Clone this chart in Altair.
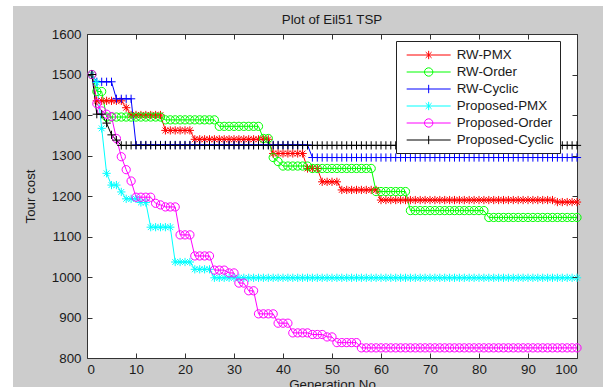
import altair as alt
import pandas as pd

# ---------------- data ----------------
generations = list(range(1, 101))

series_names = ["RW-PMX", "RW-Order", "RW-Cyclic",
                "Proposed-PMX", "Proposed-Order", "Proposed-Cyclic"]
series_colors = ["#ff0000", "#00ff00", "#0000ff", "#00ffff", "#ff00ff", "#000000"]

rw_pmx = [1500, 1435, 1435, 1435, 1435, 1435, 1435, 1418, 1400, 1400,
          1400, 1400, 1400, 1400, 1400, 1362, 1362, 1362, 1362, 1362,
          1362, 1340, 1340, 1340, 1340, 1340, 1340, 1340, 1340, 1340,
          1340, 1340, 1340, 1340, 1340, 1340, 1340, 1305, 1305, 1305,
          1305, 1305, 1305, 1305, 1268, 1268, 1268, 1235, 1235, 1235,
          1235, 1215, 1215, 1215, 1215, 1215, 1215, 1215, 1215, 1190,
          1190, 1190, 1190, 1190, 1190, 1190, 1190, 1190, 1190, 1190,
          1190, 1190, 1190, 1190, 1190, 1190, 1190, 1190, 1190, 1190,
          1190, 1190, 1190, 1190, 1190, 1190, 1190, 1190, 1190, 1190,
          1190, 1190, 1190, 1190, 1190, 1185, 1185, 1185, 1185, 1185]

rw_order = [1500, 1458, 1458, 1395, 1395, 1395, 1395, 1395, 1395, 1395,
            1395, 1395, 1395, 1395, 1395, 1388, 1388, 1388, 1388, 1388,
            1388, 1388, 1388, 1388, 1388, 1388, 1372, 1372, 1372, 1372,
            1372, 1372, 1372, 1372, 1372, 1342, 1342, 1295, 1285, 1274,
            1274, 1274, 1274, 1274, 1274, 1268, 1268, 1268, 1268, 1268,
            1268, 1268, 1268, 1268, 1268, 1268, 1268, 1268, 1211, 1211,
            1211, 1211, 1211, 1211, 1211, 1164, 1164, 1164, 1164, 1164,
            1164, 1164, 1164, 1164, 1164, 1164, 1164, 1164, 1164, 1164,
            1164, 1147, 1147, 1147, 1147, 1147, 1147, 1147, 1147, 1147,
            1147, 1147, 1147, 1147, 1147, 1147, 1147, 1147, 1147, 1147]

rw_cyclic = [1500, 1482, 1482, 1482, 1482, 1440, 1440, 1440, 1440, 1326,
             1326, 1326, 1326, 1326, 1326, 1326, 1326, 1326, 1326, 1326,
             1326, 1326, 1326, 1326, 1326, 1326, 1326, 1326, 1326, 1326,
             1326, 1326, 1326, 1326, 1326, 1326, 1326, 1326, 1326, 1326,
             1326, 1326, 1326, 1326, 1326, 1295, 1295, 1295, 1295, 1295,
             1295, 1295, 1295, 1295, 1295, 1295, 1295, 1295, 1295, 1295,
             1295, 1295, 1295, 1295, 1295, 1295, 1295, 1295, 1295, 1295,
             1295, 1295, 1295, 1295, 1295, 1295, 1295, 1295, 1295, 1295,
             1295, 1295, 1295, 1295, 1295, 1295, 1295, 1295, 1295, 1295,
             1295, 1295, 1295, 1295, 1295, 1295, 1295, 1295, 1295, 1295]

prop_pmx = [1500, 1480, 1367, 1256, 1227, 1227, 1210, 1193, 1193, 1193,
            1184, 1184, 1123, 1123, 1123, 1123, 1123, 1037, 1037, 1037,
            1037, 1019, 1019, 1019, 1019, 998, 998, 998, 998, 998,
            998, 998, 998, 998, 998, 998, 998, 998, 998, 998,
            998, 998, 998, 998, 998, 998, 998, 998, 998, 998,
            998, 998, 998, 998, 998, 998, 998, 998, 998, 998,
            998, 998, 998, 998, 998, 998, 998, 998, 998, 998,
            998, 998, 998, 998, 998, 998, 998, 998, 998, 998,
            998, 998, 998, 998, 998, 998, 998, 998, 998, 998,
            998, 998, 998, 998, 998, 998, 998, 998, 998, 998]

prop_order = [1500, 1428, 1410, 1402, 1396, 1342, 1297, 1265, 1237, 1197,
              1197, 1197, 1197, 1182, 1178, 1173, 1173, 1173, 1104, 1104,
              1104, 1052, 1052, 1052, 1052, 1017, 1017, 1017, 1010, 1010,
              985, 985, 966, 966, 909, 909, 909, 909, 886, 886,
              886, 862, 862, 862, 862, 858, 858, 858, 852, 852,
              838, 838, 838, 838, 838, 825, 825, 825, 825, 825,
              825, 825, 825, 825, 825, 825, 825, 825, 825, 825,
              825, 825, 825, 825, 825, 825, 825, 825, 825, 825,
              825, 825, 825, 825, 825, 825, 825, 825, 825, 825,
              825, 825, 825, 825, 825, 825, 825, 825, 825, 825]

prop_cyclic = [1500, 1402, 1402, 1380, 1351, 1338, 1325, 1325, 1325, 1325,
               1325, 1325, 1325, 1325, 1325, 1325, 1325, 1325, 1325, 1325,
               1325, 1325, 1325, 1325, 1325, 1325, 1325, 1325, 1325, 1325,
               1325, 1325, 1325, 1325, 1325, 1325, 1325, 1325, 1325, 1325,
               1325, 1325, 1325, 1325, 1325, 1325, 1325, 1325, 1325, 1325,
               1325, 1325, 1325, 1325, 1325, 1325, 1325, 1325, 1325, 1325,
               1325, 1325, 1325, 1325, 1325, 1325, 1325, 1325, 1325, 1325,
               1325, 1325, 1325, 1325, 1325, 1325, 1325, 1325, 1325, 1325,
               1325, 1325, 1325, 1325, 1325, 1325, 1325, 1325, 1325, 1325,
               1325, 1325, 1325, 1325, 1325, 1325, 1325, 1325, 1325, 1325]

x_ticks = [0, 10, 20, 30, 40, 50, 60, 70, 80, 90, 100]
y_ticks = [800, 900, 1000, 1100, 1200, 1300, 1400, 1500, 1600]

# ---------------- table ----------------
all_series = [rw_pmx, rw_order, rw_cyclic, prop_pmx, prop_order, prop_cyclic]
rows = []
for name, vals in zip(series_names, all_series):
    for g, v in zip(generations, vals):
        rows.append({"gen": g, "cost": v, "series": name})
df = pd.DataFrame(rows)

# ---------------- styling ----------------
FONT = "Liberation Sans"
FS = 13.33
TXT = "#1a1a1a"
AX = "#333333"
W, H = 490, 324

STAR = "M-1,0H1M0,-1V1M-0.7,-0.7L0.7,0.7M-0.7,0.7L0.7,-0.7"
CIRC = "M1,0A1,1 0 1,1 -1,0A1,1 0 1,1 1,0Z"
PLUS = "M-1,0H1M0,-1V1"
marker_paths = [STAR, CIRC, PLUS, STAR, CIRC, PLUS]

# legend symbols: a 44px line with the marker in its middle (path spans -3..3)
L_STAR = "M-3,0H3M0,-0.57V0.57M-0.4,-0.4L0.4,0.4M-0.4,0.4L0.4,-0.4"
L_CIRC = "M-3,0H3M0.57,0A0.57,0.57 0 1,1 -0.57,0A0.57,0.57 0 1,1 0.57,0Z"
L_PLUS = "M-3,0H3M0,-0.57V0.57"
legend_paths = [L_STAR, L_CIRC, L_PLUS, L_STAR, L_CIRC, L_PLUS]
SYM = 44.0 / 3.0   # sqrt of legend symbol size

x_scale = alt.Scale(domain=[0, 100], nice=False, zero=False)
y_scale = alt.Scale(domain=[800, 1600], nice=False, zero=False)
color_scale = alt.Scale(domain=series_names, range=series_colors)

base = alt.Chart(df)

x_main = alt.Axis(orient="bottom", values=x_ticks, ticks=False, domain=False, grid=False,
                  labelPadding=4, title="Generation No", titlePadding=2,
                  labelFontSize=FS, titleFontSize=FS, titleFontWeight="normal",
                  labelColor=TXT, titleColor=TXT, labelFont=FONT, titleFont=FONT, zindex=1)
y_main = alt.Axis(orient="left", values=y_ticks, ticks=False, domain=False, grid=False,
                  labelPadding=6, title="Tour cost", titlePadding=14, format="d",
                  labelFontSize=FS, titleFontSize=FS, titleFontWeight="normal",
                  labelColor=TXT, titleColor=TXT, labelFont=FONT, titleFont=FONT, zindex=1)

def tick_axis(orient, offset, values):
    return alt.Axis(orient=orient, offset=offset, values=values, labels=False, domain=False,
                    grid=False, ticks=True, tickSize=5, tickColor=AX, tickWidth=1,
                    title=None, zindex=1, minExtent=0)

lines = base.mark_line(strokeWidth=1).encode(
    x=alt.X("gen:Q", scale=x_scale, axis=x_main),
    y=alt.Y("cost:Q", scale=y_scale, axis=y_main),
    color=alt.Color("series:N", scale=color_scale, legend=None),
)

points = base.mark_point(filled=False, size=68, strokeWidth=1, opacity=1).encode(
    x=alt.X("gen:Q", scale=x_scale, axis=tick_axis("top", -H, x_ticks)),
    y=alt.Y("cost:Q", scale=y_scale, axis=tick_axis("right", -W, y_ticks)),
    color=alt.Color("series:N", scale=color_scale, legend=None),
    shape=alt.Shape("series:N", scale=alt.Scale(domain=series_names, range=marker_paths),
                    legend=None),
)

leg = alt.Legend(orient="none", legendX=309, legendY=7, title=None,
                 symbolSize=SYM * SYM, symbolStrokeWidth=1, symbolFillColor="transparent",
                 symbolOffset=SYM + 4, labelOffset=20,
                 labelFont=FONT, labelFontSize=FS, labelColor=TXT,
                 rowPadding=2, padding=6, strokeColor="#222222", fillColor="white",
                 cornerRadius=0, symbolOpacity=1)

legend_layer = base.transform_filter("datum.gen > 1000").mark_point(
    filled=False, strokeWidth=1, opacity=1).encode(
    x=alt.X("gen:Q", scale=x_scale, axis=tick_axis("bottom", -H, x_ticks)),
    y=alt.Y("cost:Q", scale=y_scale, axis=tick_axis("left", -W, y_ticks)),
    color=alt.Color("series:N", scale=color_scale, legend=leg),
    shape=alt.Shape("series:N", scale=alt.Scale(domain=series_names, range=legend_paths),
                    legend=leg),
)

one = pd.DataFrame({"k": [0]})
left_strip = alt.Chart(one).mark_rect(color="white").encode(
    x=alt.value(-87), x2=alt.value(-74), y=alt.value(-34), y2=alt.value(H + 29))
top_strip = alt.Chart(one).mark_rect(color="white").encode(
    x=alt.value(-87), x2=alt.value(W + 26), y=alt.value(-34), y2=alt.value(-28))

chart = alt.layer(left_strip, top_strip, lines, points, legend_layer).resolve_scale(
    color="independent", shape="independent"
).resolve_axis(
    x="independent", y="independent"
).properties(
    width=W, height=H,
    title=alt.TitleParams("Plot of Eil51 TSP", fontSize=FS, fontWeight="normal",
                          font=FONT, color=TXT, anchor="middle", frame="group",
                          offset=8, dy=34),
    autosize=alt.AutoSizeParams(type="none"),
    padding={"left": 87, "top": 34, "right": 26, "bottom": 29},
    background="#cccccc",
).configure_view(
    fill="white", stroke=AX, strokeWidth=1
)

chart.save("out.html", embed_options={"renderer": "svg", "actions": False})
